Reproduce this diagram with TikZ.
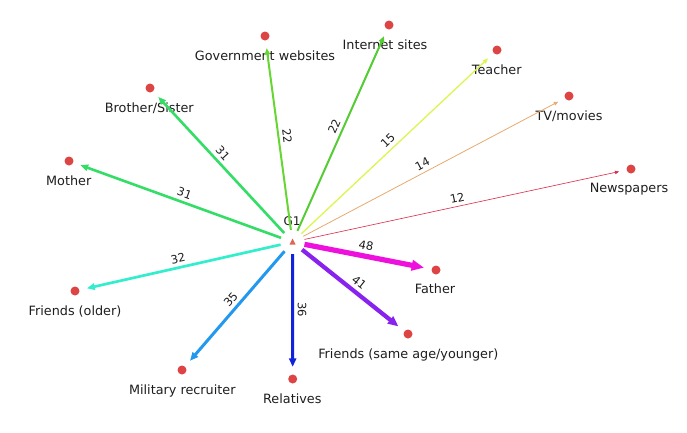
\documentclass[tikz,border=0pt]{standalone}
\usepackage{fontspec}
\setmainfont{DejaVu Sans}
\usetikzlibrary{arrows.meta}
\definecolor{govc}{RGB}{102,214,51}
\definecolor{inetc}{RGB}{85,204,51}
\definecolor{teachc}{RGB}{221,245,80}
\definecolor{tvc}{RGB}{230,170,110}
\definecolor{newsc}{RGB}{220,40,70}
\definecolor{broc}{RGB}{51,221,102}
\definecolor{foldc}{RGB}{51,238,204}
\definecolor{milc}{RGB}{34,153,238}
\definecolor{relc}{RGB}{17,34,221}
\definecolor{fathc}{RGB}{238,17,221}
\definecolor{fsamec}{RGB}{136,34,238}
\definecolor{dotc}{RGB}{221,68,68}
\definecolor{tric}{RGB}{221,102,85}
\definecolor{txtc}{RGB}{30,30,30}
\tikzset{
  dotnode/.style={circle,fill=dotc,inner sep=0pt,minimum size=9pt},
  lab/.style={anchor=base,inner sep=0pt,text=txtc,font=\fontsize{12.8}{14}\selectfont},
  num/.style={sloped,above,inner sep=3.5pt,text=txtc,font=\fontsize{11.5}{13}\selectfont},
  link/.style={-{Triangle[length=3pt 1.8,width=2.5pt 1.5]},shorten >=7.5pt},
}
\begin{document}
\begin{tikzpicture}[x=1pt,y=-1pt]
\useasboundingbox (0,0) rectangle (687,432);
% centre
\node[circle,inner sep=0pt,minimum size=24pt] (g1) at (292.5,242) {};
\fill[tric] (289.5,244.5) -- (295.5,244.5) -- (292.5,238.5) -- cycle;
\node[lab,font=\fontsize{12}{14}\selectfont] (g1lab) at (292,225.5) {G1};
% targets
\node[dotnode] (gov) at (265,36) {};
\node[dotnode] (inet) at (389,25) {};
\node[dotnode] (teach) at (497,50) {};
\node[dotnode] (tv) at (569,96) {};
\node[dotnode] (news) at (631,169) {};
\node[dotnode] (bro) at (150,88) {};
\node[dotnode] (moth) at (69,161) {};
\node[dotnode] (fold) at (75,291) {};
\node[dotnode] (mil) at (182,370) {};
\node[dotnode] (rel) at (292.7,379) {};
\node[dotnode] (fath) at (436,270) {};
\node[dotnode] (fsame) at (408,334) {};
% target labels
\node[lab] (govL) at (265,60.3) {Government websites};
\node[lab] (inetL) at (385,49) {Internet sites};
\node[lab] (teachL) at (496.7,74.5) {Teacher};
\node[lab] (tvL) at (569,120.5) {TV/movies};
\node[lab] (newsL) at (629,192.5) {Newspapers};
\node[lab] (broL) at (149.3,112.2) {Brother/Sister};
\node[lab] (mothL) at (68.7,185.2) {Mother};
\node[lab] (foldL) at (75,315.2) {Friends (older)};
\node[lab] (milL) at (182.3,394.5) {Military recruiter};
\node[lab] (relL) at (292.3,403.5) {Relatives};
\node[lab] (fathL) at (435,293.8) {Father};
\node[lab] (fsameL) at (408.3,358.5) {Friends (same age/younger)};
% connectors
\draw[link,newsc,line width=0.6pt] (g1) -- (news) node[num,pos=0.48] {12};
\draw[link,tvc,line width=0.8pt] (g1) -- (tv) node[num,pos=0.47] {14};
\draw[link,teachc,line width=1.3pt] (g1) -- (teach) node[num,pos=0.48] {15};
\draw[link,govc,line width=2pt] (g1) -- (gov) node[num,pos=0.49] {22};
\draw[link,inetc,line width=2pt] (g1) -- (inet) node[num,pos=0.5] {22};
\draw[link,broc,line width=2.6pt] (g1) -- (bro) node[num,pos=0.52] {31};
\draw[link,broc,line width=2.6pt] (g1) -- (moth) node[num,pos=0.48] {31};
\draw[link,foldc,line width=2.7pt] (g1) -- (fold) node[num,pos=0.5] {32};
\draw[link,milc,line width=3pt] (g1) -- (mil) node[num,pos=0.47] {35};
\draw[link,relc,line width=3pt] (g1) -- (rel) node[num,pos=0.46] {36};
\draw[link,fsamec,line width=4.2pt] (g1) -- (fsame) node[num,pos=0.5] {41};
\draw[link,fathc,line width=5.2pt] (g1) -- (fath) node[num,pos=0.47] {48};
\end{tikzpicture}
\end{document}
